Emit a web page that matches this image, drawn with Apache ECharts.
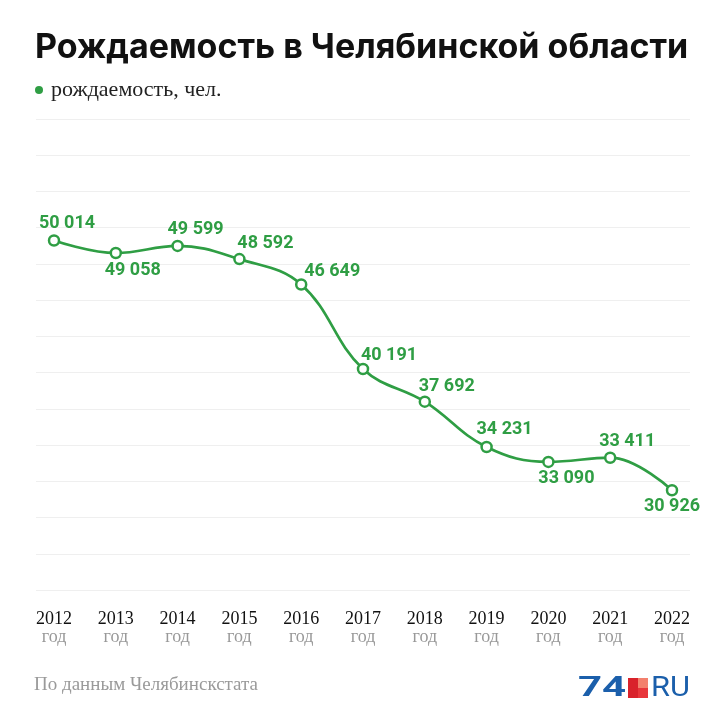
<!DOCTYPE html>
<html>
<head>
<meta charset="utf-8">
<script src="https://cdn.jsdelivr.net/npm/echarts@6/dist/echarts.min.js"></script>
<style>
html,body{margin:0;padding:0;background:#fff;}
#chart{width:727px;height:727px;}
</style>
</head>
<body>
<div id="chart"></div>
<script>
// ---- data ----
var years = ['2012','2013','2014','2015','2016','2017','2018','2019','2020','2021','2022'];
var births = [50014, 49058, 49599, 48592, 46649, 40191, 37692, 34231, 33090, 33411, 30926];
var seriesName = 'рождаемость, чел.';
var yearSuffix = 'год';

// ---- layout (label offsets relative to each point) ----
var labelOffsets = [[13,-17],[17,18],[18,-16],[26,-16],[31,-13],[26,-14],[22,-15],[18,-17],[18,17],[17,-16],[0,16]];

var GREEN = '#2f9e44';

function fmt(v){ return String(v).replace(/\B(?=(\d{3})+(?!\d))/g, ' '); }

var seriesData = births.map(function(v, i){
  return {
    value: v,
    label: { offset: labelOffsets[i] }
  };
});

var chart = echarts.init(document.getElementById('chart'));
chart.setOption({
  backgroundColor: '#fff',
  animation: false,
  title: {
    text: 'Рождаемость в Челябинской области',
    left: 30,
    top: 26,
    textStyle: { fontFamily: 'Inter', fontWeight: 'bold', fontSize: 34, color: '#111' }
  },
  legend: {
    left: 30,
    top: 74,
    icon: 'circle',
    itemWidth: 8,
    itemHeight: 8,
    itemGap: 10,
    data: [{ name: seriesName, itemStyle: { color: GREEN, borderWidth: 0 } }],
    textStyle: { fontFamily: 'Liberation Serif', fontSize: 22, color: '#222', padding: [0,0,0,3] }
  },
  grid: [
    { left: 36, right: 37, top: 119, bottom: 137 },
    { left: 54, right: 55, top: 119, bottom: 137 }
  ],
  xAxis: [
    { gridIndex: 0, type: 'value', show: false, min: 0, max: 1 },
    {
      gridIndex: 1, type: 'category', data: years, boundaryGap: false,
      axisLine: { show: false }, axisTick: { show: false },
      axisLabel: {
        margin: 20,
        formatter: function(v){ return '{y|' + v + '}\n{g|' + yearSuffix + '}'; },
        rich: {
          y: { fontFamily: 'Liberation Serif', fontSize: 18, color: '#111', lineHeight: 18 },
          g: { fontFamily: 'Liberation Serif', fontSize: 18, color: '#999', lineHeight: 18 }
        }
      }
    }
  ],
  yAxis: [
    {
      gridIndex: 0, type: 'value', min: 0, max: 13, interval: 1,
      axisLine: { show: false }, axisTick: { show: false }, axisLabel: { show: false },
      splitLine: { show: true, lineStyle: { color: '#efefef', width: 1 } }
    },
    {
      gridIndex: 1, type: 'value', min: 23300, max: 59300,
      show: false, splitLine: { show: false }
    }
  ],
  series: [{
    name: seriesName,
    type: 'line',
    xAxisIndex: 1,
    yAxisIndex: 1,
    data: seriesData,
    smooth: 0.4,
    symbol: 'circle',
    symbolSize: 10,
    color: GREEN,
    itemStyle: { color: '#fff', borderColor: GREEN, borderWidth: 2.5 },
    lineStyle: { color: GREEN, width: 2.7 },
    label: {
      show: true,
      position: 'inside',
      align: 'center',
      verticalAlign: 'middle',
      formatter: function(p){ return fmt(p.value); },
      fontFamily: 'Roboto',
      fontWeight: 'bold',
      fontSize: 18,
      color: GREEN
    }
  }],
  graphic: [
    { type: 'text', left: 34, top: 676,
      style: { text: 'По данным Челябинскстата', fontFamily: 'Liberation Serif', fontSize: 19, fill: '#9a9a9a' } },
    { type: 'text', x: 578, y: 689, scaleX: 1.5,
      style: { text: '74', fontFamily: 'Roboto', fontWeight: 'bold', fontSize: 28, fill: '#1b5fab', verticalAlign: 'middle' } },
    { type: 'rect', shape: { x: 628, y: 678, width: 10, height: 20 }, style: { fill: '#d9222b' } },
    { type: 'rect', shape: { x: 638, y: 678, width: 10, height: 10 }, style: { fill: '#f3806d' } },
    { type: 'rect', shape: { x: 638, y: 688, width: 10, height: 10 }, style: { fill: '#e8363b' } },
    { type: 'text', x: 651, y: 689, scaleX: 1.1,
      style: { text: 'RU', fontFamily: 'Roboto', fontSize: 28, fill: '#1b5fab', verticalAlign: 'middle' } }
  ]
});
</script>
</body>
</html>
